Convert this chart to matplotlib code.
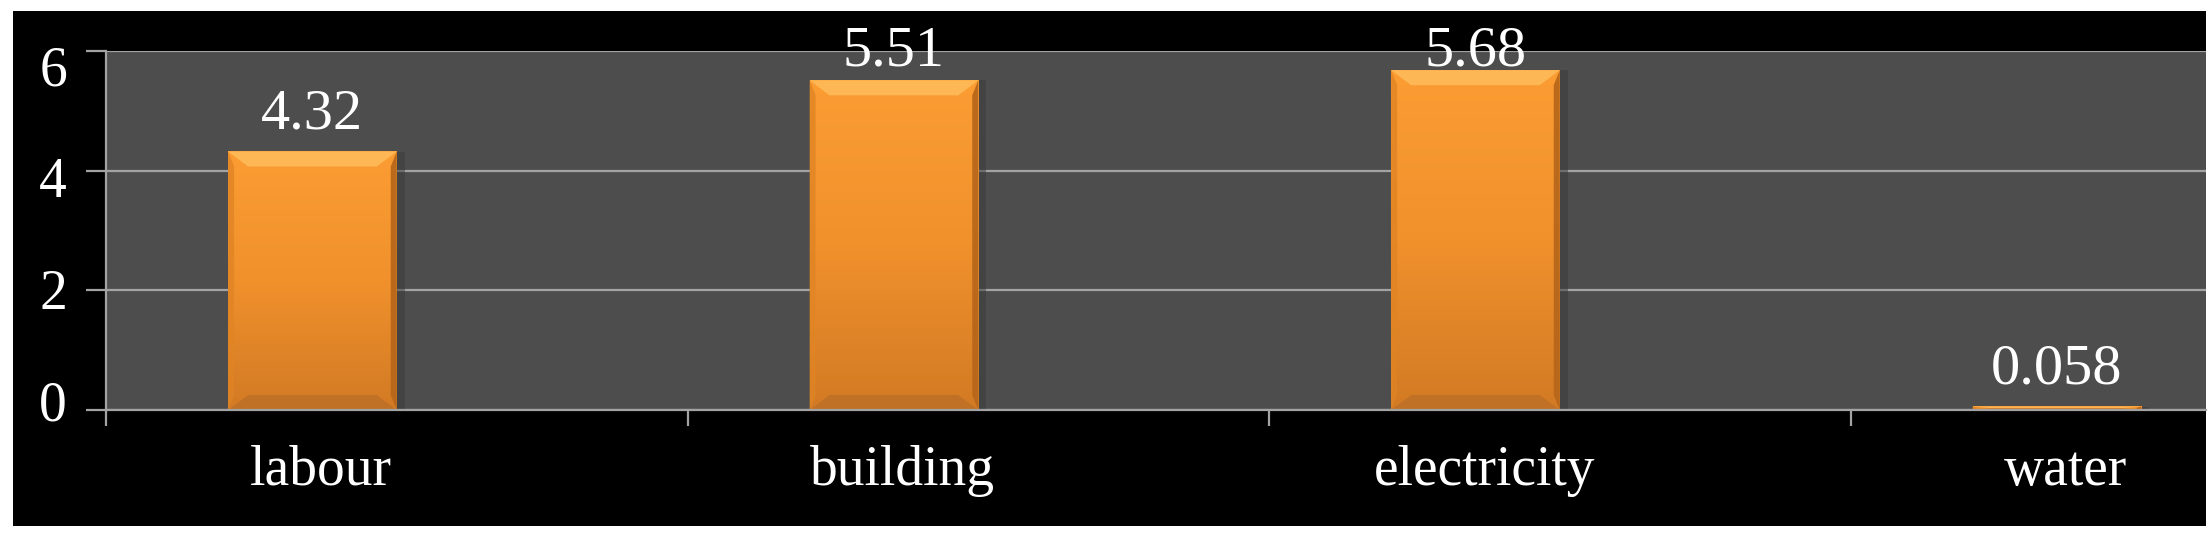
import numpy as np
import matplotlib
matplotlib.use("Agg")
import matplotlib.pyplot as plt
import matplotlib.transforms as mtransforms
from matplotlib.patches import Rectangle, Polygon
from matplotlib.colors import LinearSegmentedColormap

# data
categories = ['labour', 'building', 'electricity', 'water']
values = [4.32, 5.51, 5.68, 0.058]
labels = ['4.32', '5.51', '5.68', '0.058']
yticks = [0, 2, 4, 6]

plt.rcParams['font.family'] = ['Liberation Serif', 'DejaVu Serif']

W, H = 2211, 538
fig = plt.figure(figsize=(W / 100, H / 100), dpi=100)
fig.patch.set_facecolor('white')

# black chart area
fig.patches.append(Rectangle((13 / W, 1 - 526 / H), (2206 - 13) / W, (526 - 11) / H,
                             transform=fig.transFigure, facecolor='black',
                             edgecolor='none', zorder=-10))

ax = fig.add_axes([106 / W, 1 - 410 / H, (2206 - 106) / W, (410 - 51) / H])
ax.set_zorder(1)
ax.set_facecolor('#4d4d4d')
grid_c = '#a3a3a3'

x = np.arange(len(categories))
bar_w = 0.29
ax.set_xlim(-0.5, -0.5 + 2100 / 581.5)
ax.set_ylim(0, 6)

# px -> data conversions for bevel sizes
px_x = 1 / 581.5
px_y = 6 / (410 - 51)

cmap = LinearSegmentedColormap.from_list('bar', ['#d27a24', '#f0912c', '#fb9d33'])
grad = np.linspace(0, 1, 256).reshape(-1, 1)

for xi, v in zip(x, values):
    x0, x1 = xi - bar_w, xi
    ax.imshow(grad, cmap=cmap, origin='lower', extent=(x0, x1, 0, v),
              aspect='auto', zorder=2, interpolation='bilinear')
    dx = 20 * px_x
    dy = min(15 * px_y, v / 2)
    ax.add_patch(Polygon([(x0, v), (x1, v), (x1 - dx, v - dy), (x0 + dx, v - dy)],
                         closed=True, facecolor='#ffbd5c', edgecolor='none', alpha=0.85, zorder=3))
    ax.add_patch(Polygon([(x0, 0), (x1, 0), (x1 - dx, dy), (x0 + dx, dy)],
                         closed=True, facecolor='#bd6f27', edgecolor='none', alpha=0.8, zorder=3))
    ax.add_patch(Polygon([(x0, 0), (x0 + dx * 0.3, dy), (x0 + dx * 0.3, v - dy), (x0, v)],
                         closed=True, facecolor='#e08424', edgecolor='none', alpha=0.8, zorder=3))
    ax.add_patch(Polygon([(x1, 0), (x1 - dx * 0.3, dy), (x1 - dx * 0.3, v - dy), (x1, v)],
                         closed=True, facecolor='#b5651a', edgecolor='none', alpha=0.9, zorder=3))
    # soft shadow right of the bar
    ax.add_patch(Rectangle((x1, 0), 8 * px_x, v, facecolor='#3a3a3a', edgecolor='none',
                           alpha=0.5, zorder=1.5))

# data labels
gap = 23 * px_y
top_lim = (410 - 66) * px_y
for xi, v, t in zip(x, values, labels):
    ax.text(xi - bar_w / 2, min(v + gap, top_lim), t, ha='center', va='baseline',
            color='white', fontsize=42, zorder=5)

# grid and axes
ax.set_yticks(yticks)
ax.set_yticklabels([])
ax.yaxis.grid(True, color=grid_c, linewidth=1.6, zorder=1)
ax.set_axisbelow(True)
for s in ['top', 'right']:
    ax.spines[s].set_visible(False)
for s in ['left', 'bottom']:
    ax.spines[s].set_color(grid_c)
    ax.spines[s].set_linewidth(1.6)
    ax.spines[s].set_zorder(4)

ax.tick_params(axis='y', colors=grid_c, length=14.4, width=1.6)

# y labels sit on a slightly squeezed scale in the original picture
ylab_tr = mtransforms.blended_transform_factory(ax.transAxes, ax.transData)
for v in yticks:
    ax.text(-39 / 2100, -0.18 + 0.935 * v, str(v), transform=ylab_tr,
            ha='right', va='baseline', color='white', fontsize=40, clip_on=False)

ax.set_xticks(x - 0.13)
ax.set_xticklabels(categories)
ax.set_xticks(np.arange(len(categories)) - 0.5, minor=True)
ax.tick_params(axis='x', which='major', length=0, pad=25, labelcolor='white', labelsize=40)
ax.tick_params(axis='x', which='minor', length=11.5, width=1.6, color=grid_c)

fig.savefig('out.png', dpi=100, facecolor='white')
